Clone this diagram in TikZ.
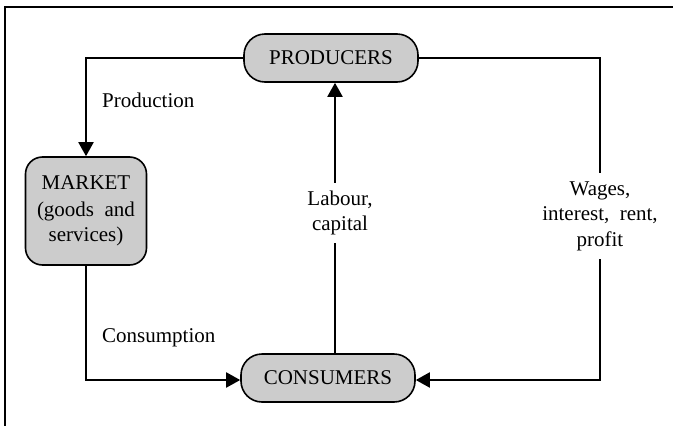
\documentclass[tikz,border=0pt]{standalone}
\usepackage{fontspec}
\setmainfont{Liberation Serif}
\usetikzlibrary{arrows.meta}
\definecolor{boxgray}{RGB}{204,204,204}
\tikzset{
  pill/.style={draw, line width=1.6pt, fill=boxgray, rectangle,
    rounded corners=21pt, minimum width=174pt, minimum height=48pt,
    inner sep=0pt},
  mktbox/.style={draw, line width=1.6pt, fill=boxgray, rectangle,
    rounded corners=17pt, minimum width=121pt, minimum height=108pt,
    align=center, inner sep=0pt},
  flow/.style={line width=2pt, -{Triangle[length=14pt,width=15pt]}},
  lbl/.style={align=center, fill=white, inner xsep=2pt, inner ysep=8pt},
  plain/.style={align=center, inner sep=0pt}
}
\begin{document}
\begin{tikzpicture}[x=1pt,y=-1pt,font=\fontsize{21}{25.5}\selectfont]
\useasboundingbox (0,0) rectangle (673,426);
% frame on the top and left edges
\draw[line width=2pt] (5,426) -- (5,7) -- (673,7);

% the three sectors
\node[pill] (prod) at (331,58) {PRODUCERS};
\node[pill] (cons) at (328,378) {CONSUMERS};
\node[mktbox] (mkt) at (86,211) {MARKET\\[1pt](goods\enspace and\\services)};

% corner points of the loops
\coordinate (nw) at (86,58);
\coordinate (sw) at (86,380);
\coordinate (ne) at (600,58);
\coordinate (se) at (600,380);
\coordinate (lx) at (335,0);

% flows
\draw[flow] (prod.west |- nw) -- (nw) -- (mkt.north -| nw);
\draw[flow] (mkt.south -| sw) -- (sw) -- (cons.west |- sw);
\draw[flow] (cons.north -| lx) -- (prod.south -| lx);
\draw[flow] (prod.east |- ne) -- (ne) -- (se) -- (cons.east |- se);

% labels
\node[lbl] (labour) at (340,213) {Labour,\\capital};
\node[lbl] (wages) at (600,216) {Wages,\\interest,\enspace rent,\\profit};
\node[plain, anchor=west] (production) at (102,100) {Production};
\node[plain, anchor=west] (consumption) at (102,338) {Consumption};
\end{tikzpicture}
\end{document}
